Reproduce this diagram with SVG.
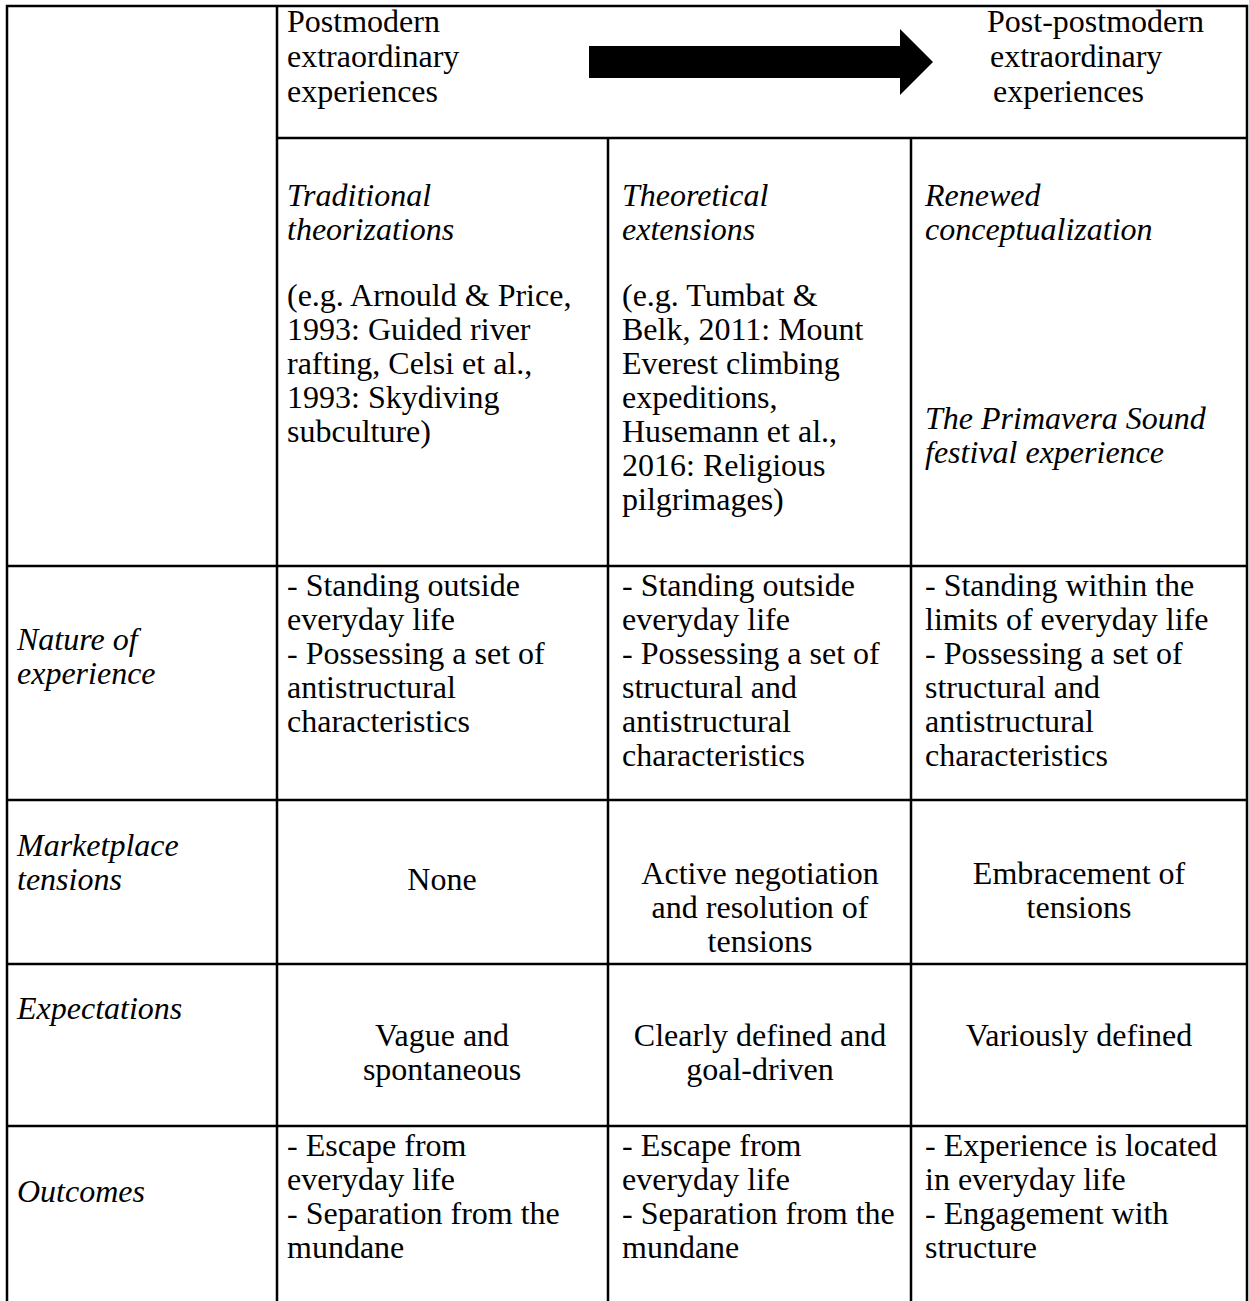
<svg xmlns="http://www.w3.org/2000/svg" width="1249" height="1301" viewBox="0 0 1249 1301">
<style>
.t{font-family:"Liberation Serif","Times New Roman",serif;font-size:32px;fill:#000}
.i{font-style:italic}
.c{text-anchor:middle}
.ln{stroke:#000;stroke-width:2.5;fill:none}
</style>
<rect width="1249" height="1301" fill="#fff"/>
<g id="grid">
<path class="ln" d="M7,1301V6H1247V1301M277,6V1301M277,138H1247M608,138V1301M911,138V1301M7,566H1247M7,800H1247M7,964H1247M7,1126H1247"/>
</g>
<g id="connectors">
<polygon points="589,46 900,46 900,29 933,62 900,95 900,78 589,78" fill="#000"/>
</g>
<g id="head-left">
<text class="t" x="287" y="32">Postmodern</text>
<text class="t" x="287" y="67">extraordinary</text>
<text class="t" x="287" y="102">experiences</text>
</g>
<g id="head-right">
<text class="t" x="987" y="32">Post-postmodern</text>
<text class="t" x="990" y="67">extraordinary</text>
<text class="t" x="993" y="102">experiences</text>
</g>
<g id="col1-head">
<text class="t i" x="287" y="206">Traditional</text>
<text class="t i" x="287" y="240">theorizations</text>
<text class="t" x="287" y="306">(e.g. Arnould &amp; Price,</text>
<text class="t" x="287" y="340">1993: Guided river</text>
<text class="t" x="287" y="374">rafting, Celsi et al.,</text>
<text class="t" x="287" y="408">1993: Skydiving</text>
<text class="t" x="287" y="442">subculture)</text>
</g>
<g id="col2-head">
<text class="t i" x="622" y="206">Theoretical</text>
<text class="t i" x="622" y="240">extensions</text>
<text class="t" x="622" y="306">(e.g. Tumbat &amp;</text>
<text class="t" x="622" y="340">Belk, 2011: Mount</text>
<text class="t" x="622" y="374">Everest climbing</text>
<text class="t" x="622" y="408">expeditions,</text>
<text class="t" x="622" y="442">Husemann et al.,</text>
<text class="t" x="622" y="476">2016: Religious</text>
<text class="t" x="622" y="510">pilgrimages)</text>
</g>
<g id="col3-head">
<text class="t i" x="925" y="206">Renewed</text>
<text class="t i" x="925" y="240">conceptualization</text>
<text class="t i" x="925" y="429">The Primavera Sound</text>
<text class="t i" x="925" y="463">festival experience</text>
</g>
<g id="row-nature">
<text class="t i" x="17" y="650">Nature of</text>
<text class="t i" x="17" y="684">experience</text>
<text class="t" x="287" y="596">- Standing outside</text>
<text class="t" x="287" y="630">everyday life</text>
<text class="t" x="287" y="664">- Possessing a set of</text>
<text class="t" x="287" y="698">antistructural</text>
<text class="t" x="287" y="732">characteristics</text>
<text class="t" x="622" y="596">- Standing outside</text>
<text class="t" x="622" y="630">everyday life</text>
<text class="t" x="622" y="664">- Possessing a set of</text>
<text class="t" x="622" y="698">structural and</text>
<text class="t" x="622" y="732">antistructural</text>
<text class="t" x="622" y="766">characteristics</text>
<text class="t" x="925" y="596">- Standing within the</text>
<text class="t" x="925" y="630">limits of everyday life</text>
<text class="t" x="925" y="664">- Possessing a set of</text>
<text class="t" x="925" y="698">structural and</text>
<text class="t" x="925" y="732">antistructural</text>
<text class="t" x="925" y="766">characteristics</text>
</g>
<g id="row-market">
<text class="t i" x="17" y="856">Marketplace</text>
<text class="t i" x="17" y="890">tensions</text>
<text class="t c" x="442" y="890">None</text>
<text class="t c" x="760" y="884">Active negotiation</text>
<text class="t c" x="760" y="918">and resolution of</text>
<text class="t c" x="760" y="952">tensions</text>
<text class="t c" x="1079" y="884">Embracement of</text>
<text class="t c" x="1079" y="918">tensions</text>
</g>
<g id="row-expect">
<text class="t i" x="17" y="1019">Expectations</text>
<text class="t c" x="442" y="1046">Vague and</text>
<text class="t c" x="442" y="1080">spontaneous</text>
<text class="t c" x="760" y="1046">Clearly defined and</text>
<text class="t c" x="760" y="1080">goal-driven</text>
<text class="t c" x="1079" y="1046">Variously defined</text>
</g>
<g id="row-outcomes">
<text class="t i" x="17" y="1202">Outcomes</text>
<text class="t" x="287" y="1156">- Escape from</text>
<text class="t" x="287" y="1190">everyday life</text>
<text class="t" x="287" y="1224">- Separation from the</text>
<text class="t" x="287" y="1258">mundane</text>
<text class="t" x="622" y="1156">- Escape from</text>
<text class="t" x="622" y="1190">everyday life</text>
<text class="t" x="622" y="1224">- Separation from the</text>
<text class="t" x="622" y="1258">mundane</text>
<text class="t" x="925" y="1156">- Experience is located</text>
<text class="t" x="925" y="1190">in everyday life</text>
<text class="t" x="925" y="1224">- Engagement with</text>
<text class="t" x="925" y="1258">structure</text>
</g>
</svg>
